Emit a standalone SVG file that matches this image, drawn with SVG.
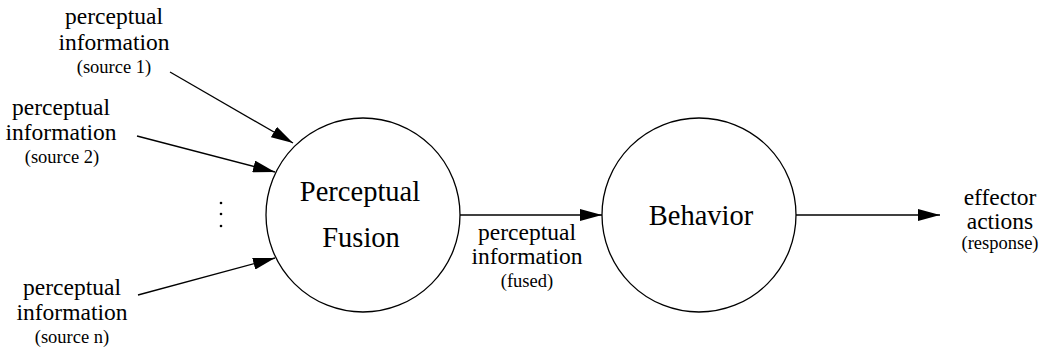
<svg xmlns="http://www.w3.org/2000/svg" width="1043" height="350" viewBox="0 0 1043 350" font-family="'Liberation Serif', 'DejaVu Serif', serif">
  <style>
    .node { fill: #ffffff; stroke: #000000; stroke-width: 1.3; }
    .edge { fill: none; stroke: #000000; stroke-width: 1.3; }
    text { font-family: 'Liberation Serif', 'DejaVu Serif', serif; fill: #000000; text-anchor: middle; }
    .big { font-size: 28.5px; }
    .lbl { font-size: 23.5px; }
    .sub { font-size: 18.5px; }
  </style>
  <defs>
    <marker id="arrow" markerUnits="userSpaceOnUse" markerWidth="22" markerHeight="12" refX="22" refY="6" orient="auto">
      <path d="M0,0 L22,6 L0,12 z" fill="#000000"/>
    </marker>
  </defs>

  <rect width="1043" height="350" fill="#ffffff"/>

  <!-- connectors -->
  <g id="connectors">
    <line class="edge" x1="170" y1="72" x2="293" y2="143" marker-end="url(#arrow)"/>
    <line class="edge" x1="137" y1="136" x2="275" y2="172" marker-end="url(#arrow)"/>
    <line class="edge" x1="138" y1="295" x2="275" y2="258" marker-end="url(#arrow)"/>
    <line class="edge" x1="460" y1="215" x2="602" y2="215" marker-end="url(#arrow)"/>
    <line class="edge" x1="796" y1="215" x2="940" y2="215" marker-end="url(#arrow)"/>
  </g>

  <!-- input sources -->
  <g id="source1">
    <text class="lbl" x="114" y="24">perceptual</text>
    <text class="lbl" x="114" y="50">information</text>
    <text class="sub" x="114" y="73">(source 1)</text>
  </g>
  <g id="source2">
    <text class="lbl" x="61" y="115">perceptual</text>
    <text class="lbl" x="61" y="140">information</text>
    <text class="sub" x="62" y="163">(source 2)</text>
  </g>
  <g id="ellipsis">
    <circle cx="221" cy="203" r="1.3" fill="#000000"/>
    <circle cx="221" cy="214" r="1.3" fill="#000000"/>
    <circle cx="221" cy="226" r="1.3" fill="#000000"/>
  </g>
  <g id="sourceN">
    <text class="lbl" x="72" y="295">perceptual</text>
    <text class="lbl" x="72" y="320">information</text>
    <text class="sub" x="72" y="343">(source n)</text>
  </g>

  <!-- fusion node -->
  <g id="fusion">
    <circle class="node" cx="363" cy="215" r="97"/>
    <text class="big" x="360" y="201">Perceptual</text>
    <text class="big" x="361" y="247">Fusion</text>
  </g>

  <!-- fused information label -->
  <g id="fused">
    <text class="lbl" x="527" y="240">perceptual</text>
    <text class="lbl" x="527" y="264">information</text>
    <text class="sub" x="527" y="287">(fused)</text>
  </g>

  <!-- behavior node -->
  <g id="behavior">
    <circle class="node" cx="699" cy="215" r="97"/>
    <text class="big" x="701" y="225">Behavior</text>
  </g>

  <!-- output -->
  <g id="effector">
    <text class="lbl" x="1000" y="205">effector</text>
    <text class="lbl" x="1000" y="229">actions</text>
    <text class="sub" x="1000" y="249">(response)</text>
  </g>
</svg>
